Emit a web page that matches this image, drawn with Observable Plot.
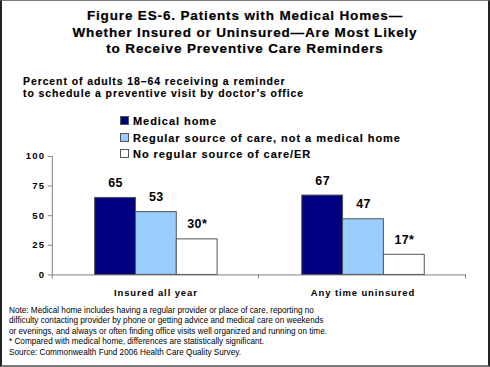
<!DOCTYPE html>
<html>
<head>
<meta charset="utf-8">
<script src="https://cdn.jsdelivr.net/npm/d3@7"></script>
<script src="https://cdn.jsdelivr.net/npm/@observablehq/plot@0.6"></script>
<style>
  html, body { margin: 0; padding: 0; background: #fff; }
  #frame {
    position: relative; width: 490px; height: 367px; box-sizing: border-box;
    border-top: 1px solid #7a7a7a; border-left: 2px solid #222; border-right: 2px solid #222;
    border-bottom: 2px solid #7a7a7a; overflow: hidden;
    font-family: "Liberation Sans", Arial, sans-serif; color: #000;
  }
  .abs { position: absolute; white-space: nowrap; }
  #title { left: 0; width: 486px; top: 7px; text-align: center; font-weight: bold; font-size: 13.5px; line-height: 16.5px; letter-spacing: 0.85px; -webkit-text-stroke: 0.2px #000; }
  #subtitle { left: 21px; top: 74px; font-weight: bold; font-size: 10.5px; line-height: 12px; letter-spacing: 0.9px; -webkit-text-stroke: 0.15px #000; }
  #legend { left: 118px; top: 112px; font-weight: bold; font-size: 11px; line-height: 16.7px; letter-spacing: 0.95px; -webkit-text-stroke: 0.15px #000; }
  #legend .sw { display: inline-block; width: 7px; height: 7px; border: 1px solid #555; margin-right: 4px; vertical-align: 0px; }
  #note { left: 7px; top: 305px; font-size: 8.2px; line-height: 10.4px; }
  #chart { position: absolute; left: -2px; top: 139px; }
  #chart svg text { font-weight: bold; }
</style>
</head>
<body>
<div id="frame">
  <div id="title" class="abs">Figure ES-6. Patients with Medical Homes—<br>Whether Insured or Uninsured—Are Most Likely<br>to Receive Preventive Care Reminders</div>
  <div id="subtitle" class="abs">Percent of adults 18–64 receiving a reminder<br>to schedule a preventive visit by doctor’s office</div>
  <div id="legend" class="abs"></div>
  <div id="chart"></div>
  <div id="note" class="abs">Note: Medical home includes having a regular provider or place of care, reporting no<br>difficulty contacting provider by phone or getting advice and medical care on weekends<br>or evenings, and always or often finding office visits well organized and running on time.<br>* Compared with medical home, differences are statistically significant.<br>Source: Commonwealth Fund 2006 Health Care Quality Survey.</div>
</div>
<script>
const categories = ["Insured all year", "Any time uninsured"];
const series = ["Medical home", "Regular source of care, not a medical home", "No regular source of care/ER"];
const medicalHome = [65, 67];
const regularSource = [53, 47];
const noRegularSource = [30, 17];
const significant = [false, false, true];
const yTicks = [0, 25, 50, 75, 100];
const colors = ["#000080", "#99CCFF", "#FFFFFF"];

const seriesValues = [medicalHome, regularSource, noRegularSource];
const data = [];
categories.forEach((c, ci) => {
  series.forEach((s, si) => {
    const v = seriesValues[si][ci];
    data.push({cat: c, series: s, value: v, label: v + (significant[si] ? "*" : "")});
  });
});

// legend
const legend = document.getElementById("legend");
series.forEach((s, i) => {
  const row = document.createElement("div");
  row.innerHTML = `<span class="sw" style="background:${colors[i]}"></span>${s}`;
  legend.appendChild(row);
});

const plot = Plot.plot({
  width: 490,
  height: 165,
  marginTop: 16,
  marginBottom: 30,
  marginLeft: 52,
  marginRight: 22,
  style: {background: "transparent", fontFamily: "'Liberation Sans', Arial, sans-serif", overflow: "visible"},
  facet: {data, x: "cat"},
  fx: {domain: categories, padding: 0, label: null, tickSize: 0, tickPadding: 14},
  x: {domain: series, paddingInner: 0, paddingOuter: 1.02, axis: null},
  y: {domain: [0, 100], ticks: yTicks, tickSize: 4, tickPadding: 3, label: null},
  color: {domain: series, range: colors},
  marks: [
    Plot.ruleY([0], {stroke: "#808080"}),
    Plot.barY(data, {x: "series", y: "value", fill: "series", stroke: "#555", strokeWidth: 1, inset: 0}),
    Plot.text(data, {x: "series", y: "value", text: "label", dy: -15, fontSize: 12.5, fontWeight: "bold", fill: "black"})
  ]
});

document.getElementById("chart").appendChild(plot);

// style axes
const svg = d3.select(plot);
svg.selectAll('g[aria-label="y-axis tick"] path, g[aria-label="y-axis"] line').attr("stroke", "#808080");
svg.selectAll('g[aria-label="y-axis tick label"] text, g[aria-label="y-axis tick label"]').style("font-size", "9.5px").style("letter-spacing", "1.3px");
svg.selectAll('g[aria-label="fx-axis tick label"] text, g[aria-label="fx-axis tick label"]').style("font-size", "9.5px").style("letter-spacing", "0.9px");
svg.selectAll('g[aria-label="text"] text, g[aria-label="text"]').style("letter-spacing", "0.4px");

// axis lines drawn from the scales
const fx = plot.scale("fx");
const y = plot.scale("y");
const x0 = fx.apply(categories[0]);
const y0 = y.apply(0), y100 = y.apply(100);
const g = svg.append("g").attr("stroke", "#808080").attr("stroke-width", 1);
g.append("line").attr("x1", x0 + 0.5).attr("x2", x0 + 0.5).attr("y1", y100).attr("y2", y0 + 4);
categories.forEach(c => {
  const xr = fx.apply(c) + fx.bandwidth;
  g.append("line").attr("x1", xr - 0.5).attr("x2", xr - 0.5).attr("y1", y0).attr("y2", y0 + 4);
});
</script>
</body>
</html>
